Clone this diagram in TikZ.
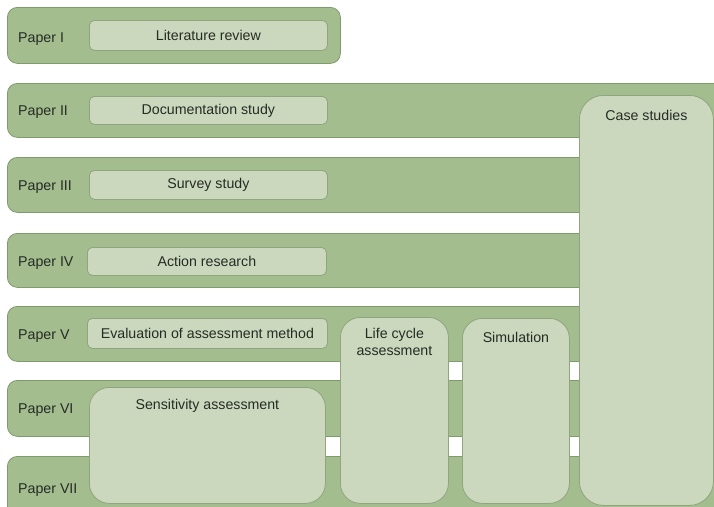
\documentclass[tikz,border=0pt]{standalone}
\usepackage{fontspec}
\setmainfont{Liberation Sans}
\definecolor{bandfill}{HTML}{A3BD8F}
\definecolor{bandline}{HTML}{7F9A6D}
\definecolor{boxfill}{HTML}{CBD8BD}
\definecolor{boxline}{HTML}{8EA57D}
\definecolor{txt}{HTML}{262B24}
\tikzset{
  band/.style={draw=bandline, fill=bandfill, rounded corners=10pt, line width=0.8pt, anchor=north west, inner sep=0pt},
  smallbox/.style={draw=boxline, fill=boxfill, rounded corners=5pt, line width=0.8pt, anchor=north west, inner sep=0pt, text=txt},
  bigbox/.style={draw=boxline, fill=boxfill, rounded corners=20pt, line width=0.8pt, anchor=north west, inner sep=0pt},
  lbl/.style={anchor=base west, inner sep=0pt, text=txt},
  ttl/.style={inner sep=0pt, text=txt, align=center}
}
\begin{document}
\begin{tikzpicture}[x=1pt,y=-1pt, font=\fontsize{14.2}{17.5}\selectfont]
\useasboundingbox (0,0) rectangle (714,506);
\clip (0,0) rectangle (714,506);
% bands
\node[band, minimum width=333pt, minimum height=56pt] (b1) at (7,7) {};
\node[band, minimum width=740pt, minimum height=54pt] (b2) at (7,83) {};
\node[band, minimum width=740pt, minimum height=55pt] (b3) at (7,157) {};
\node[band, minimum width=740pt, minimum height=54pt] (b4) at (7,233) {};
\node[band, minimum width=740pt, minimum height=55pt] (b5) at (7,306) {};
\node[band, minimum width=740pt, minimum height=56pt] (b6) at (7,380) {};
\node[band, minimum width=740pt, minimum height=70pt] (b7) at (7,456) {};
% labels (base line positions)
\node[lbl] (l1) at (18,42) {Paper I};
\node[lbl] (l2) at (18,115) {Paper II};
\node[lbl] (l3) at (18,190) {Paper III};
\node[lbl] (l4) at (18,266) {Paper IV};
\node[lbl] (l5) at (18,339) {Paper V};
\node[lbl] (l6) at (18,413) {Paper VI};
\node[lbl] (l7) at (18,493) {Paper VII};
% small boxes
\node[smallbox, minimum width=238pt, minimum height=30pt] (lit) at (89,20) {};
\node[ttl] at (lit.center) {Literature review};
\node[smallbox, minimum width=238pt, minimum height=28pt] (doc) at (89,96) {};
\node[ttl] at (doc.center) {Documentation study};
\node[smallbox, minimum width=238pt, minimum height=29pt] (sur) at (89,170) {};
\node[ttl] at (sur.center) {Survey study};
\node[smallbox, minimum width=239pt, minimum height=28pt] (act) at (87,247) {};
\node[ttl] at (act.center) {Action research};
\node[smallbox, minimum width=240pt, minimum height=30pt] (eva) at (87,318) {};
\node[ttl] at (eva.center) {Evaluation of assessment method};
% big boxes
\node[bigbox, minimum width=236pt, minimum height=116pt] (sens) at (89,387) {};
\node[ttl] at ([yshift=-19pt]sens.north) {Sensitivity assessment};
\node[bigbox, minimum width=108pt, minimum height=186pt] (lca) at (340,317) {};
\node[ttl, font=\fontsize{14.2}{17}\selectfont] at ([yshift=-25pt]lca.north) {Life cycle\\assessment};
\node[bigbox, minimum width=107pt, minimum height=185pt] (sim) at (462,318) {};
\node[ttl] at ([yshift=-19pt]sim.north) {Simulation};
\node[bigbox, rounded corners=24pt, minimum width=134pt, minimum height=410pt] (case) at (579,95) {};
\node[ttl] at ([yshift=-20pt]case.north) {Case studies};
\end{tikzpicture}
\end{document}
